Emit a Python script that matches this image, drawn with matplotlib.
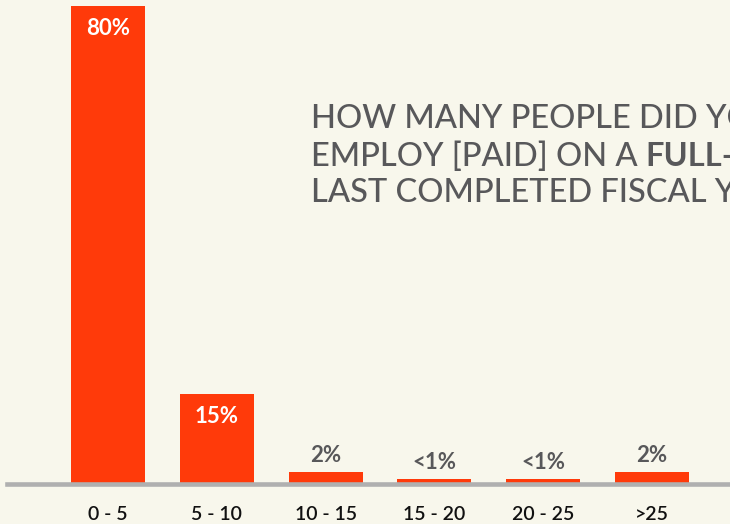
import matplotlib
matplotlib.use("Agg")
import matplotlib.pyplot as plt

# survey answers: full-time staff headcount
categories = ["0 - 5", "5 - 10", "10 - 15", "15 - 20", "20 - 25", ">25"]
shares = [80, 15, 2, 0.8, 0.8, 2]
share_labels = ["80%", "15%", "2%", "<1%", "<1%", "2%"]

BG = "#f8f7ec"
BAR = "#ff3a0a"
GREY_TXT = "#58585a"

plt.rcParams["font.family"] = ["Lato", "DejaVu Sans"]

fig = plt.figure(figsize=(7.3, 5.24), dpi=100, facecolor=BG)
ax = fig.add_axes([0, 40 / 524, 1, 484 / 524])
ax.set_facecolor(BG)

x = range(len(categories))
bars = ax.bar(x, shares, width=0.68, color=BAR, zorder=2)

for rect, val, lab in zip(bars, shares, share_labels):
    cx = rect.get_x() + rect.get_width() / 2
    if val >= 10:
        ax.annotate(lab, (cx, val), xytext=(0, -16), textcoords="offset points",
                    ha="center", va="center", color="white",
                    fontsize=16, fontweight="bold")
    else:
        ax.annotate(lab, (cx, val), xytext=(0, 12), textcoords="offset points",
                    ha="center", va="center", color=GREY_TXT,
                    fontsize=16, fontweight="bold")

ax.set_xlim(-0.993, 5.717)
ax.set_ylim(0, 81)
ax.set_xticks(list(x))
ax.set_xticklabels(categories, fontsize=14, color="#111111", fontweight="semibold")
ax.tick_params(axis="x", length=0, pad=16)
ax.set_yticks([])
for s in ax.spines.values():
    s.set_visible(False)

# baseline
ax.axhline(0, xmin=7 / 730, xmax=1, color="#b0b0b0", lw=3.3, zorder=3, clip_on=False)

# question text, runs off the right edge
tkw = dict(fontsize=23.5, color=GREY_TXT, va="baseline", ha="left", fontweight="medium")
fig.text(311 / 730, 1 - 128 / 524, "HOW MANY PEOPLE DID YOU", **tkw)
t1 = fig.text(311 / 730, 1 - 166 / 524, "EMPLOY [PAID] ON A ", **tkw)
tkw_bold = dict(tkw, fontweight="bold")
t2 = fig.text(0, 1 - 166 / 524, "FULL-TIME", **tkw_bold)
fig.canvas.draw()
bb = t1.get_window_extent()
t2.set_x(bb.x1 / fig.bbox.width)
fig.text(311 / 730, 1 - 202 / 524, "LAST COMPLETED FISCAL YEAR?", **tkw)

fig.savefig("out.png", dpi=100, facecolor=BG)
